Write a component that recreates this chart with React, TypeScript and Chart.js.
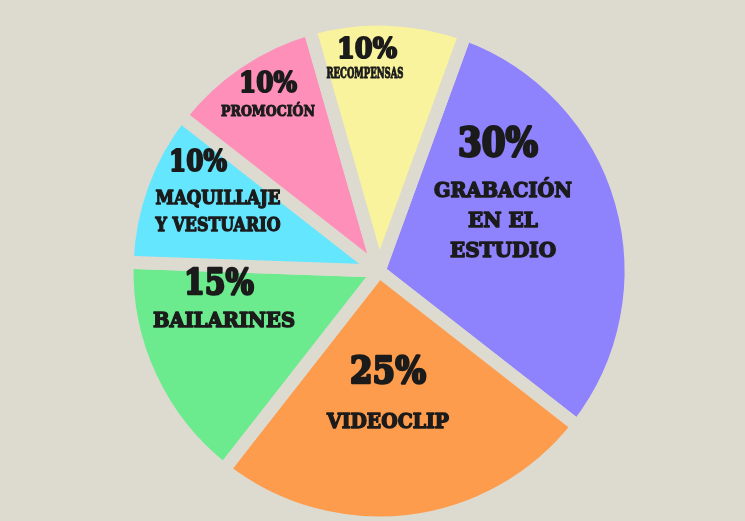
import { useEffect, useRef } from "react";
import { Chart, registerables } from "chart.js";

Chart.register(...registerables);

const categories = [
  "Grabación en el estudio",
  "Videoclip",
  "Bailarines",
  "Maquillaje y vestuario",
  "Promoción",
  "Recompensas",
];
const shares = [30, 25, 15, 10, 10, 10];
const captionLines = [
  ["GRABACIÓN", "EN EL", "ESTUDIO"],
  ["VIDEOCLIP"],
  ["BAILARINES"],
  ["MAQUILLAJE", "Y VESTUARIO"],
  ["PROMOCIÓN"],
  ["RECOMPENSAS"],
];
const sliceColors = ["#8e82fd", "#fe9c4e", "#6cea8e", "#63e6fe", "#fe8fb9", "#f8f39c"];

const BG = "#dddbd0";
const INK = "#1b1b1b";
const FONT = "'DejaVu Serif', serif";

// where each slice's text sits, measured from the pie centre
const labelLayout = [
  { px: 119, py: -125, ps: 40, pw: 80, cx: 124, cy: -79, cs: 20, cw: 138, gap: 30 },
  { px: 9, py: 102, ps: 38, pw: 76, cx: 9, cy: 152, cs: 20, cw: 122, gap: 28 },
  { px: -160, py: 14, ps: 36, pw: 70, cx: -155, cy: 51, cs: 20, cw: 142, gap: 28 },
  { px: -181, py: -108, ps: 30, pw: 58, cx: -161, cy: -72, cs: 18, cw: 125, gap: 27 },
  { px: -111, py: -186, ps: 28, pw: 58, cx: -111, cy: -159, cs: 15, cw: 94, gap: 22 },
  { px: -12, py: -220, ps: 28, pw: 60, cx: -14, cy: -197, cs: 14, cw: 77, gap: 20 },
];

const sliceText = {
  id: "sliceText",
  afterDatasetsDraw(chart: Chart) {
    const ctx = chart.ctx;
    const meta = chart.getDatasetMeta(0);
    ctx.save();
    ctx.fillStyle = INK;
    ctx.strokeStyle = INK;
    ctx.lineJoin = "round";
    ctx.textAlign = "center";
    ctx.textBaseline = "middle";
    meta.data.forEach((arc: any, i: number) => {
      const l = labelLayout[i];
      const pct = `${shares[i]}%`;
      ctx.font = `bold ${l.ps}px ${FONT}`;
      ctx.lineWidth = l.ps / 14;
      ctx.strokeText(pct, arc.x + l.px, arc.y + l.py, l.pw);
      ctx.fillText(pct, arc.x + l.px, arc.y + l.py, l.pw);
      ctx.font = `bold ${l.cs}px ${FONT}`;
      ctx.lineWidth = l.cs / 14;
      captionLines[i].forEach((line, j) => {
        const y = arc.y + l.cy + j * l.gap;
        ctx.strokeText(line, arc.x + l.cx, y, l.cw);
        ctx.fillText(line, arc.x + l.cx, y, l.cw);
      });
    });
    ctx.restore();
  },
};

export default function App() {
  const canvasRef = useRef<HTMLCanvasElement>(null);
  const chartRef = useRef<Chart | null>(null);

  useEffect(() => {
    if (!canvasRef.current) return;
    if (chartRef.current) chartRef.current.destroy();

    chartRef.current = new Chart(canvasRef.current, {
      type: "pie",
      data: {
        labels: categories,
        datasets: [
          {
            data: shares,
            backgroundColor: sliceColors,
            borderColor: BG,
            borderWidth: 13,
            radius: 252,
          },
        ],
      },
      options: {
        animation: false,
        responsive: true,
        maintainAspectRatio: false,
        rotation: 20,
        events: [],
        layout: { padding: { top: 21, left: 13, right: 0, bottom: 0 } },
        plugins: {
          legend: { display: false },
          tooltip: { enabled: false },
        },
      },
      plugins: [sliceText],
    });

    return () => {
      chartRef.current?.destroy();
      chartRef.current = null;
    };
  }, []);

  return (
    <div style={{ position: "fixed", left: 0, top: 0, width: 745, height: 521, background: BG }}>
      <canvas ref={canvasRef} />
    </div>
  );
}
